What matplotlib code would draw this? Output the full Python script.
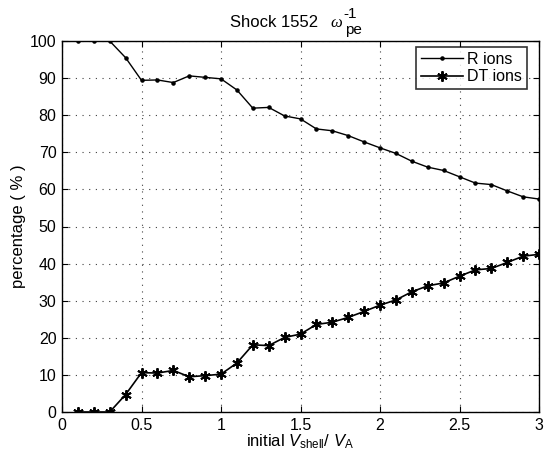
import matplotlib
matplotlib.use("Agg")
import matplotlib.pyplot as plt
import numpy as np

plt.rcParams['font.family'] = ['Liberation Sans', 'DejaVu Sans']
plt.rcParams['mathtext.fontset'] = 'custom'
plt.rcParams['mathtext.rm'] = 'Liberation Sans'
plt.rcParams['mathtext.it'] = 'Liberation Sans:italic'

v_shell = [0.1, 0.2, 0.3, 0.4, 0.5, 0.6, 0.7, 0.8, 0.9, 1.0,
           1.1, 1.2, 1.3, 1.4, 1.5, 1.6, 1.7, 1.8, 1.9, 2.0,
           2.1, 2.2, 2.3, 2.4, 2.5, 2.6, 2.7, 2.8, 2.9, 3.0]
r_ions = [100, 100, 100, 95.5, 89.4, 89.5, 88.8, 90.6, 90.2, 89.8,
          86.8, 81.9, 82.1, 79.8, 79.0, 76.3, 75.8, 74.5, 72.8, 71.2,
          69.7, 67.6, 66.0, 65.1, 63.4, 61.7, 61.3, 59.6, 58.0, 57.4]
dt_ions = [0, 0, 0, 4.7, 10.6, 10.5, 11.2, 9.5, 9.8, 10.2,
           13.2, 18.1, 17.9, 20.1, 21.0, 23.6, 24.2, 25.5, 27.1, 28.8,
           30.2, 32.4, 34.0, 34.8, 36.6, 38.3, 38.7, 40.3, 42.0, 42.5]
xticks = [0, 0.5, 1, 1.5, 2, 2.5, 3]
xticklabels = ['0', '0.5', '1', '1.5', '2', '2.5', '3']
yticks = [0, 10, 20, 30, 40, 50, 60, 70, 80, 90, 100]

W, H = 544, 453
fig = plt.figure(figsize=(W / 100, H / 100), dpi=100)
ax = fig.add_axes([62/W, 41/H, (539-62)/W, (412-41)/H])

ax.plot(v_shell, r_ions, color='black', lw=1.0, marker='.', markersize=4.5,
        label='R ions')
ax.plot(v_shell, dt_ions, color='black', lw=1.2, marker=(6, 2, 0),
        markersize=7.5, markeredgewidth=1.4, label='DT ions')

ax.set_xlim(0, 3)
ax.set_ylim(0, 100)
ax.set_xticks(xticks)
ax.set_xticklabels(xticklabels)
ax.set_yticks(yticks)
ax.grid(True, color='0.25', linestyle=(0, (1, 5)), linewidth=0.8)
ax.tick_params(direction='in', length=4, labelsize=11.5, top=True, right=True,
               labeltop=False, labelright=False, pad=4)
for s in ax.spines.values():
    s.set_linewidth(1.0)

# Title composed like MATLAB's TeX interpreter output
def fx(px):
    return px / W

def fy(py_from_top):
    return (H - py_from_top) / H

fig.text(fx(230), fy(27), 'Shock 1552', fontsize=12, va='baseline', ha='left')
fig.text(fx(330), fy(27), '\u03c9', fontsize=12, va='baseline', ha='left',
         family='Liberation Serif', style='italic')
fig.text(fx(343), fy(18.5), '-1', fontsize=11, va='baseline', ha='left')
fig.text(fx(345), fy(34), 'pe', fontsize=11, va='baseline', ha='left')

ax.set_ylabel('percentage ( % )', fontsize=12, labelpad=3)
ax.set_xlabel(r'initial $V_{\mathrm{shell}}$/ $V_{\mathrm{A}}$', fontsize=12,
              labelpad=0)

leg = ax.legend(loc='upper right', bbox_to_anchor=(0.975, 0.984),
                borderaxespad=0, fontsize=11.5, frameon=True, fancybox=False,
                edgecolor='black', borderpad=0.3, handlelength=2.6,
                handletextpad=0.3, labelspacing=0.15)
leg.get_frame().set_linewidth(1.2)

fig.savefig('out.png', dpi=100)
